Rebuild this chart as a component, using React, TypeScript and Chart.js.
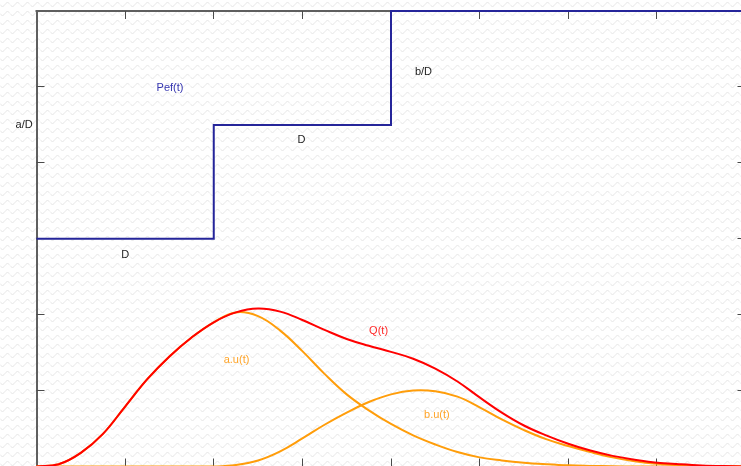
import React, { useEffect, useRef } from "react";
import { Chart, registerables } from "chart.js";

Chart.register(...registerables);

// time grid
const T = [0, 0.25, 0.5, 0.75, 1, 1.25, 1.5, 1.75, 2, 2.25, 2.5, 2.75, 3, 3.25, 3.5, 3.75, 4, 4.25, 4.5, 4.75, 5, 5.25, 5.5, 5.75, 6, 6.25, 6.5, 6.75, 7, 7.25, 7.5, 7.75, 8];
// a.u(t)
const AU = [0, 0.03, 0.18, 0.43, 0.79, 1.15, 1.45, 1.70, 1.90, 2.03, 1.98, 1.79, 1.52, 1.22, 0.95, 0.74, 0.56, 0.41, 0.29, 0.19, 0.12, 0.08, 0.05, 0.03, 0.015, 0.008, 0.003, 0, 0, 0, 0, 0, 0];
// b.u(t)
const BU = [0, 0, 0, 0, 0, 0, 0, 0, 0, 0.02, 0.08, 0.2, 0.37, 0.55, 0.71, 0.85, 0.95, 1.0, 0.99, 0.92, 0.78, 0.62, 0.48, 0.36, 0.27, 0.19, 0.12, 0.07, 0.035, 0.015, 0.006, 0.002, 0];
// Q(t)
const Q = [0, 0.03, 0.18, 0.43, 0.79, 1.15, 1.45, 1.70, 1.90, 2.03, 2.08, 2.04, 1.93, 1.80, 1.68, 1.59, 1.51, 1.42, 1.29, 1.12, 0.91, 0.71, 0.54, 0.41, 0.30, 0.21, 0.14, 0.09, 0.05, 0.03, 0.014, 0.005, 0];
// Pef(t) step function
const PEF_T = [0, 2, 2, 4, 4, 8];
const PEF = [3, 3, 4.5, 4.5, 6, 6];

const X_TICKS = [1, 2, 3, 4, 5, 6, 7];
const Y_TICKS = [1, 2, 3, 4, 5];

const LABEL_TEXT = ["a/D", "Pef(t)", "b/D", "D", "D", "Q(t)", "a.u(t)", "b.u(t)"];
const LABEL_X = [-0.14, 1.507, 4.366, 1.0, 2.99, 3.86, 2.257, 4.518];
const LABEL_Y = [4.5, 4.99, 5.2, 2.79, 4.3, 1.785, 1.4, 0.68];
const LABEL_COLOR = ["#222222", "#3535b0", "#222222", "#222222", "#222222", "#ff2a2a", "#ffa52a", "#ffa52a"];

const toXY = (xs: number[], ys: number[]) => xs.map((x, i) => ({ x, y: ys[i] }));

export default function App() {
  const ref = useRef<HTMLCanvasElement | null>(null);

  useEffect(() => {
    const canvas = ref.current;
    if (!canvas) return;

    const pc = document.createElement("canvas");
    pc.width = 10;
    pc.height = 9;
    const g = pc.getContext("2d")!;
    g.fillStyle = "#ffffff";
    g.fillRect(0, 0, 10, 9);
    g.strokeStyle = "#e6e6e6";
    g.lineWidth = 1;
    g.beginPath();
    for (let i = 0; i <= 20; i++) {
      const x = i / 2;
      const y = 4.5 + 2 * Math.sin((x / 10) * 2 * Math.PI);
      if (i === 0) g.moveTo(x, y);
      else g.lineTo(x, y);
    }
    g.stroke();

    const decor = {
      id: "decor",
      beforeDraw(chart: any) {
        const ctx = chart.ctx;
        ctx.save();
        const pat = ctx.createPattern(pc, "repeat");
        ctx.fillStyle = pat || "#fff";
        ctx.fillRect(0, 0, chart.width, chart.height);
        ctx.restore();
      },
      beforeDatasetsDraw(chart: any) {
        const ctx = chart.ctx;
        const { left, right, top, bottom } = chart.chartArea;
        const xs = chart.scales.x;
        const ys = chart.scales.y;
        ctx.save();
        ctx.strokeStyle = "#5f5f5f";
        ctx.lineWidth = 2;
        ctx.beginPath();
        ctx.moveTo(37, top - 1);
        ctx.lineTo(37, bottom + 2);
        ctx.moveTo(left - 1, top);
        ctx.lineTo(right + 1, top);
        ctx.moveTo(right, top);
        ctx.lineTo(right, bottom);
        ctx.stroke();
        ctx.strokeStyle = "#4a4a4a";
        ctx.lineWidth = 1;
        ctx.beginPath();
        X_TICKS.forEach((v) => {
          const px = Math.floor(xs.getPixelForValue(v)) + 0.5;
          ctx.moveTo(px, top);
          ctx.lineTo(px, top + 8);
          ctx.moveTo(px, bottom);
          ctx.lineTo(px, bottom - 8);
        });
        Y_TICKS.forEach((v) => {
          const py = Math.floor(ys.getPixelForValue(v)) + 0.5;
          ctx.moveTo(left, py);
          ctx.lineTo(left + 8, py);
          ctx.moveTo(right, py);
          ctx.lineTo(right - 8, py);
        });
        ctx.stroke();
        ctx.restore();
      },
      afterDatasetsDraw(chart: any) {
        const ctx = chart.ctx;
        const xs = chart.scales.x;
        const ys = chart.scales.y;
        ctx.save();
        ctx.font = "11px 'Liberation Sans', Arial, sans-serif";
        ctx.textAlign = "center";
        ctx.textBaseline = "middle";
        LABEL_TEXT.forEach((t, i) => {
          ctx.fillStyle = LABEL_COLOR[i];
          ctx.fillText(t, xs.getPixelForValue(LABEL_X[i]), ys.getPixelForValue(LABEL_Y[i]));
        });
        ctx.restore();
      },
    };

    const curve = (data: any, color: string) => ({
      data,
      borderColor: color,
      borderWidth: 2,
      pointRadius: 0,
      fill: false,
      tension: 0.4,
      clip: false as any,
    });

    const chart = new Chart(canvas, {
      type: "line",
      data: {
        datasets: [
          curve(toXY(T, Q), "#ff0000"),
          curve(toXY(T, AU), "#ff9d0a"),
          curve(toXY(T, BU), "#ff9d0a"),
          {
            data: toXY(PEF_T, PEF),
            borderColor: "#25259a",
            borderWidth: 2,
            pointRadius: 0,
            fill: false,
            tension: 0,
            clip: false as any,
          },
        ],
      },
      options: {
        responsive: false,
        animation: false,
        events: [],
        layout: { padding: { left: 36.5, top: 11, right: 14.5, bottom: 13.5 } },
        scales: {
          x: { type: "linear", min: 0, max: 8, display: false },
          y: { type: "linear", min: 0, max: 6, display: false },
        },
        plugins: { legend: { display: false }, tooltip: { enabled: false } },
      },
      plugins: [decor],
    });

    return () => chart.destroy();
  }, []);

  return (
    <div
      style={{
        position: "fixed",
        left: 0,
        top: 0,
        width: 741,
        height: 466,
        overflow: "hidden",
        background: "#fff",
      }}
    >
      <canvas ref={ref} width={760} height={480} style={{ width: 760, height: 480, display: "block" }} />
    </div>
  );
}
